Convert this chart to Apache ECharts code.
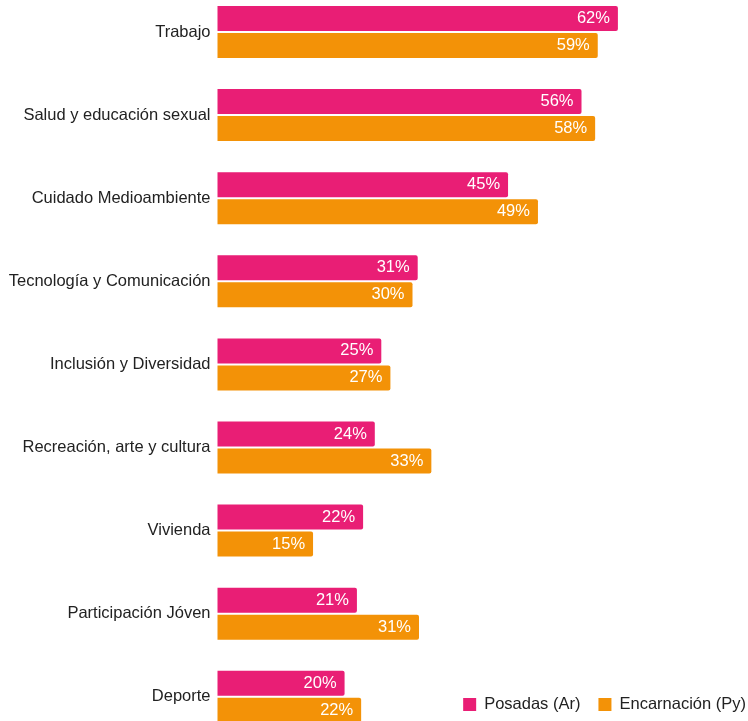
<!DOCTYPE html>
<html>
<head>
<meta charset="utf-8">
<script src="https://cdn.jsdelivr.net/npm/echarts@6/dist/echarts.min.js"></script>
<style>html,body{margin:0;padding:0;background:#fff}#c{width:748px;height:721px}</style>
</head>
<body>
<div id="c"></div>
<script>
const categories = ["Trabajo","Salud y educación sexual","Cuidado Medioambiente","Tecnología y Comunicación","Inclusión y Diversidad","Recreación, arte y cultura","Vivienda","Participación Jóven","Deporte"];
const posadas = [61.6, 56.0, 44.7, 30.8, 25.2, 24.2, 22.4, 21.45, 19.55];
const encarnacion = [58.5, 58.1, 49.3, 30.0, 26.6, 32.9, 14.7, 31.0, 22.1];
const seriesNames = ["Posadas (Ar)","Encarnación (Py)"];

const chart = echarts.init(document.getElementById('c'));
const FF = 'Liberation Sans, Arial, sans-serif';
const lbl = {show:true, position:'insideRight', color:'#fff', fontSize:16.5, fontFamily:FF,
  formatter: p => Math.round(p.value) + '%', distance:8};
chart.setOption({
  animation:false,
  textStyle:{fontFamily:FF},
  legend:{
    data:seriesNames, right:2, bottom:8, padding:0, itemWidth:13, itemHeight:13, itemGap:18, icon:'rect',
    textStyle:{fontSize:16.5, color:'#222', fontFamily:FF, padding:[0,0,0,3]}
  },
  grid:{left:217.5, top:-9.6, width:520, height:748, containLabel:false, outerBoundsMode:'none'},
  xAxis:{type:'value', min:0, max:80, show:false},
  yAxis:{type:'category', data:categories, inverse:true,
    axisLine:{show:false}, axisTick:{show:false},
    axisLabel:{fontSize:16.5, color:'#222', margin:7, fontFamily:FF, padding:[3,0,0,0]}},
  series:[
    {name:seriesNames[0], type:'bar', data:posadas, barWidth:25, barGap:'8%', barCategoryGap:'37%',
     itemStyle:{color:'#E91E75', borderRadius:[0,2,2,0]}, label:lbl},
    {name:seriesNames[1], type:'bar', data:encarnacion, barWidth:25,
     itemStyle:{color:'#F39207', borderRadius:[0,2,2,0]}, label:lbl}
  ]
});
</script>
</body>
</html>
